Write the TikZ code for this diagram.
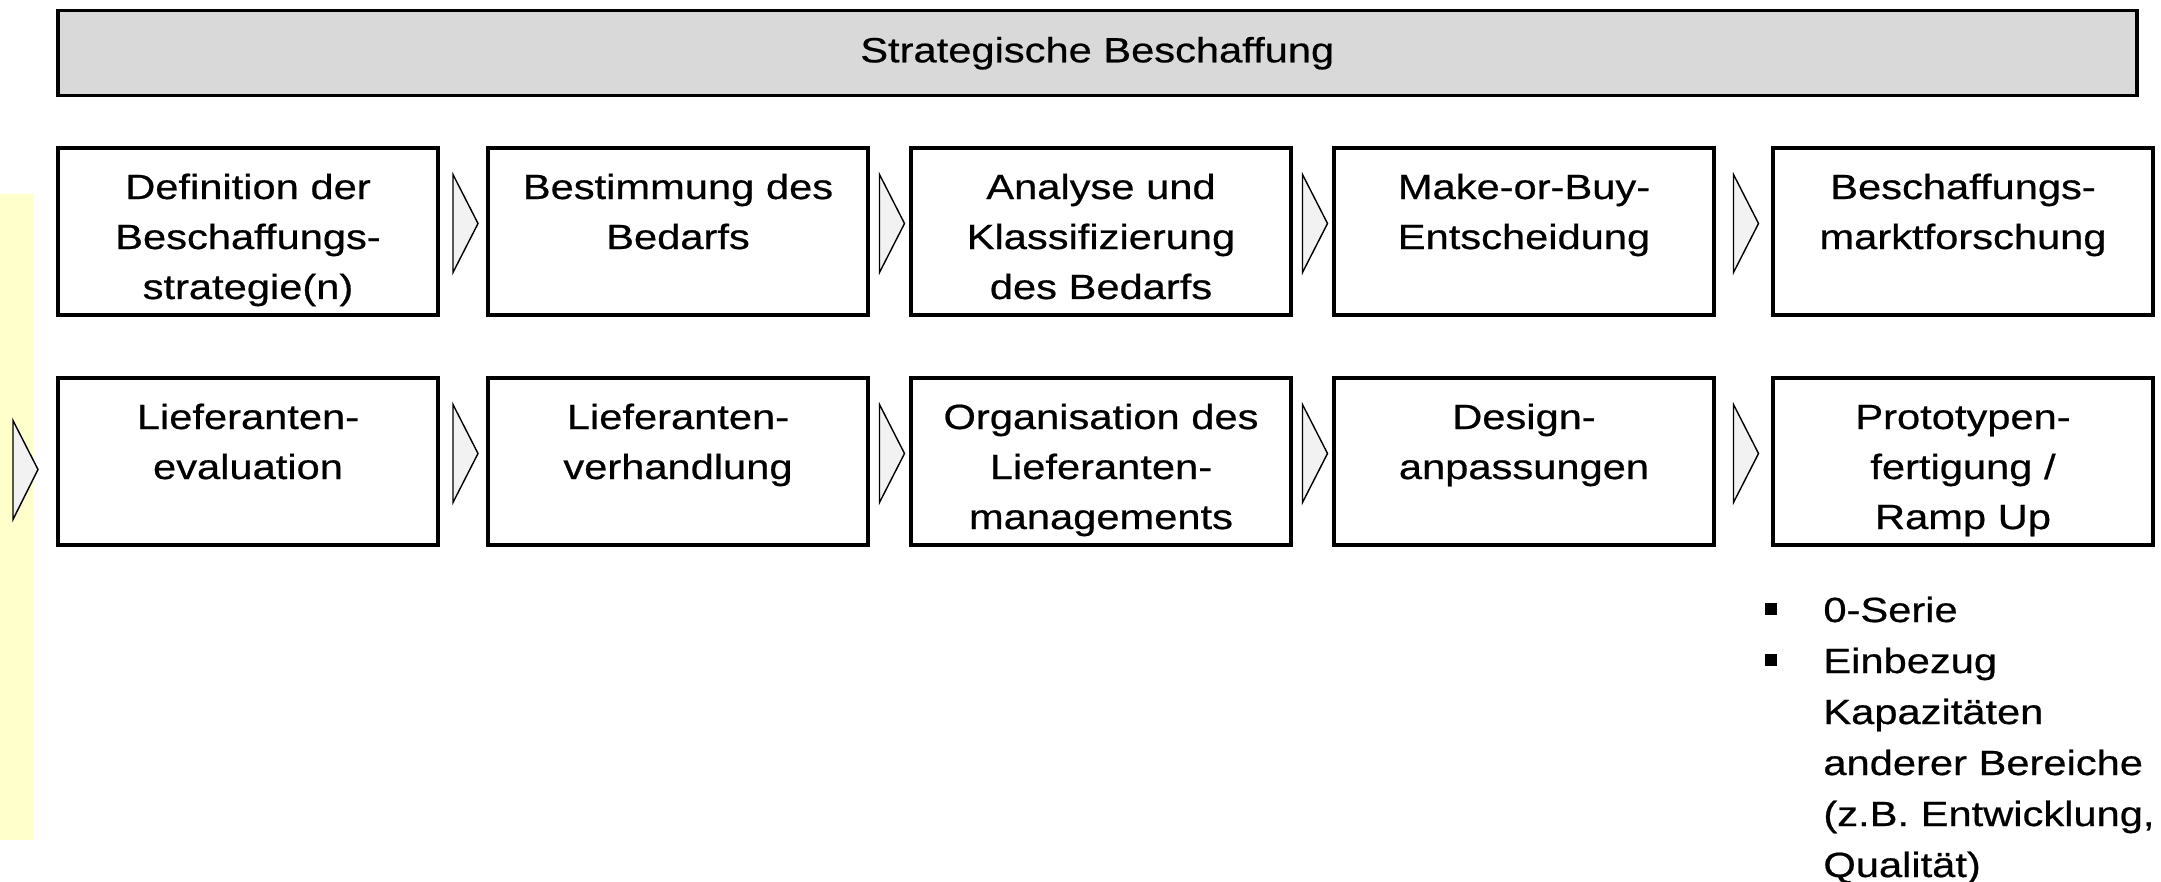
\documentclass[tikz,border=0pt]{standalone}
\usepackage{fontspec}
\setmainfont{Liberation Sans}[FakeStretch=1.19, FakeBold=0.6]
\usetikzlibrary{calc}

\definecolor{barfill}{HTML}{D9D9D9}
\definecolor{stripfill}{HTML}{FFFFCC}
\definecolor{gatefill}{HTML}{F2F2F2}

\newcommand\bulsq{\makebox[29pt][l]{\rule[3.5pt]{6pt}{6pt}}}
\newcommand\bulgap{\hspace*{29pt}}

\tikzset{
	titlebar/.style={draw, line width=1.75pt, fill=barfill, anchor=north west, inner sep=0pt,
		minimum width=1039.5pt, minimum height=42.5pt, font=\fontsize{17.5pt}{25pt}\selectfont},
	stepbox/.style={draw, line width=2pt, anchor=north west, inner sep=0pt,
		minimum width=190pt, minimum height=83.5pt, text width=186pt, align=center,
		text height=25.5pt, text depth=58pt, font=\fontsize{17.5pt}{25pt}\selectfont},
	gate/.style={draw, line width=.7pt, fill=gatefill},
	notes/.style={anchor=base west, inner sep=0pt, text width=210pt, align=left,
		font=\fontsize{17.5pt}{25.5pt}\selectfont},
}

\begin{document}
\begin{tikzpicture}[x=.5pt, y=-.5pt]
	\useasboundingbox (0,0) rectangle (2161,882);
	\fill[stripfill] (0,194) rectangle (33,840);
	\node[titlebar] (title) at (56,9) {Strategische Beschaffung};
	% upper row
	\foreach \nm/\x/\txt in {defstrat/56/{Definition der\\Beschaffungs-\\strategie(n)},
			bedarf/486/{Bestimmung des\\Bedarfs},
			analyse/909/{Analyse und\\Klassifizierung\\des Bedarfs},
			makebuy/1332/{Make-or-Buy-\\Entscheidung},
			marktf/1771/{Beschaffungs-\\marktforschung}}
		\node[stepbox] (\nm) at (\x,146) {\txt};
	% lower row
	\foreach \nm/\x/\txt in {lieval/56/{Lieferanten-\\evaluation},
			liverh/486/{Lieferanten-\\verhandlung},
			liorg/909/{Organisation des\\Lieferanten-\\managements},
			design/1332/{Design-\\anpassungen},
			proto/1771/{Prototypen-\\fertigung /\\Ramp Up}}
		\node[stepbox] (\nm) at (\x,376) {\txt};
	\foreach \a/\b in {defstrat/bedarf, bedarf/analyse, analyse/makebuy, makebuy/marktf,
			lieval/liverh, liverh/liorg, liorg/design, design/proto} {
		\coordinate (m) at ($(\a.east)!.5!(\b.west)$);
		\draw[gate] ($(m)+(-10,-57)$) -- ($(m)+(15,-8)$) -- ($(m)+(-10,41)$) -- cycle;
	}
	\draw[gate] ($(lieval.west)+(-43,-41)$) -- ($(lieval.west)+(-18,8)$) -- ($(lieval.west)+(-43,58)$) -- cycle;
	\node[notes] (notes) at (1765,622) {\bulsq 0-Serie\\\bulsq Einbezug\\\bulgap Kapazitäten\\\bulgap anderer Bereiche\\\bulgap (z.B. Entwicklung,\\\bulgap Qualität)};
\end{tikzpicture}
\end{document}
